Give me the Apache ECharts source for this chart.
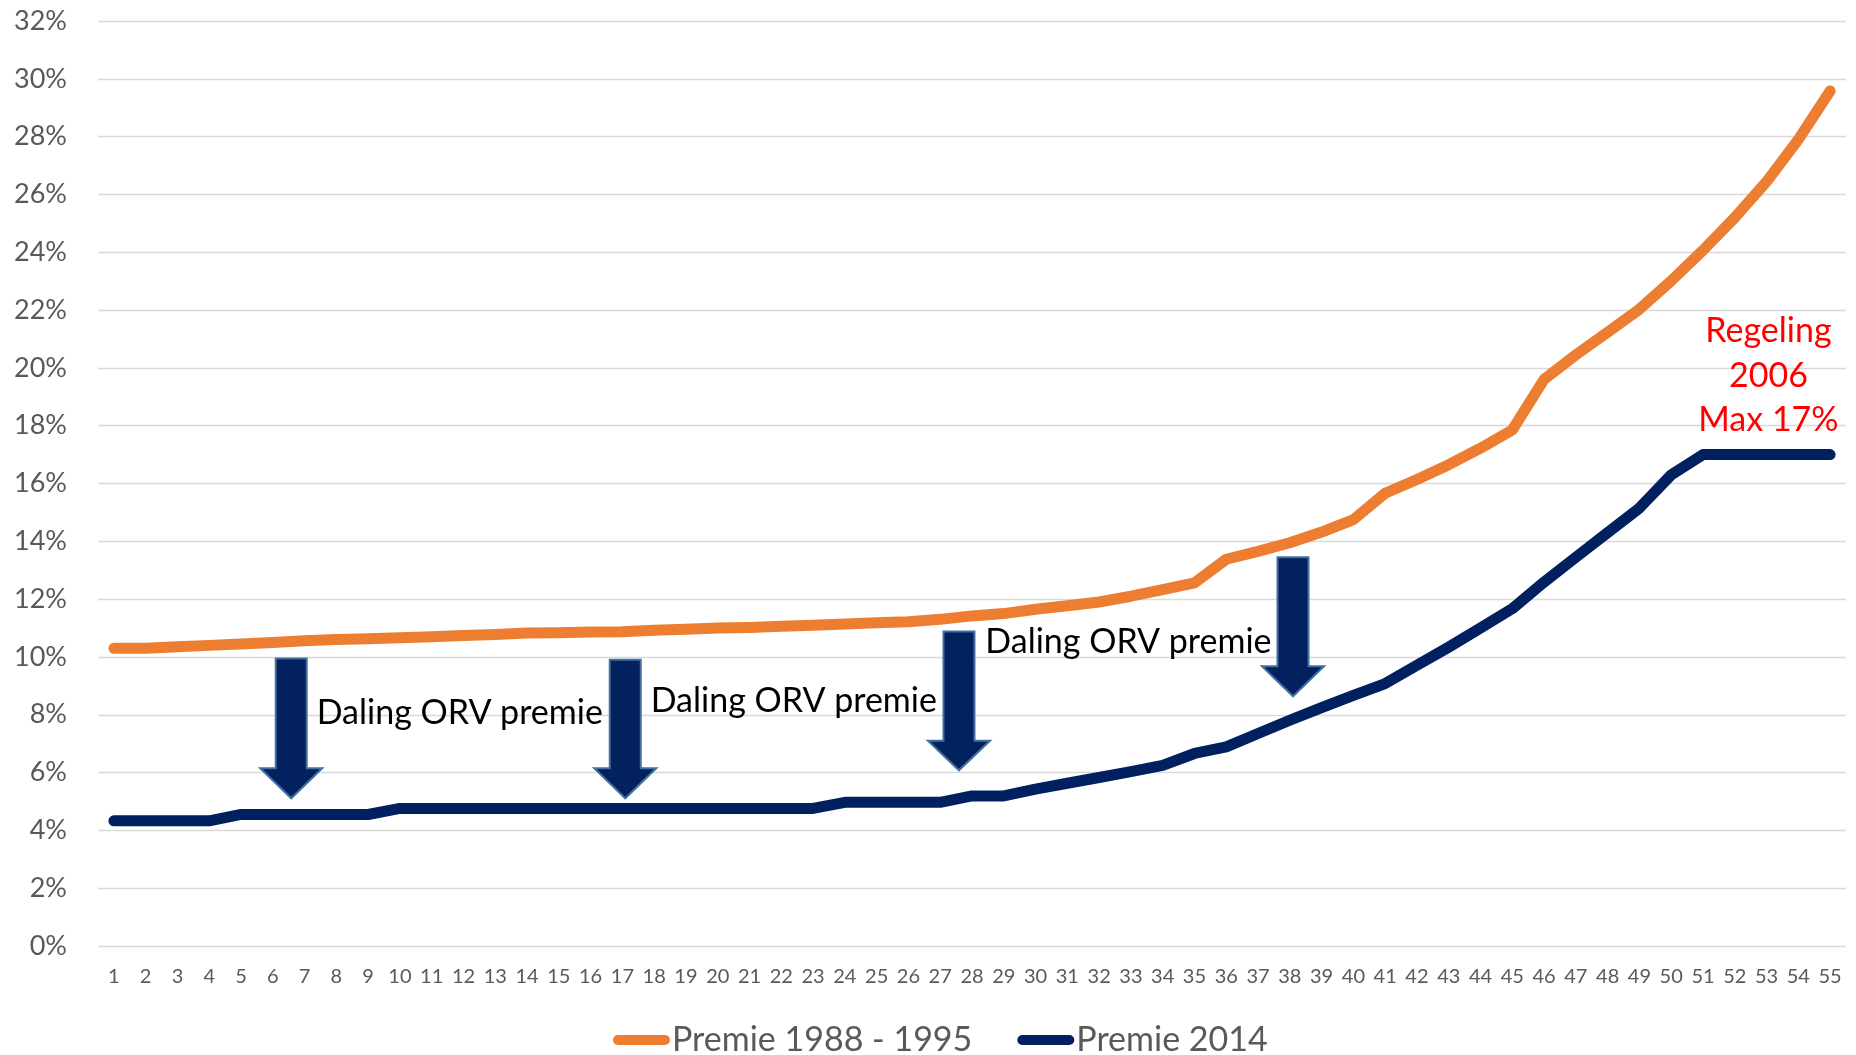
<!DOCTYPE html>
<html>
<head>
<meta charset="utf-8">
<script src="https://cdn.jsdelivr.net/npm/echarts@6/dist/echarts.min.js"></script>
<style>
  html, body { margin: 0; padding: 0; background: #ffffff; }
  #chart { width: 1856px; height: 1055px; }
</style>
</head>
<body>
<div id="chart"></div>
<script>
// ---- data ----
var categories = [];
for (var c = 1; c <= 55; c++) categories.push(String(c));

var premie1988 = [
  10.30, 10.30, 10.35, 10.40, 10.45, 10.50, 10.56, 10.60, 10.63, 10.66,
  10.70, 10.74, 10.78, 10.83, 10.84, 10.86, 10.87, 10.92, 10.96, 11.00,
  11.02, 11.06, 11.10, 11.14, 11.18, 11.22, 11.30, 11.42, 11.50, 11.65,
  11.77, 11.90, 12.10, 12.33, 12.56, 13.38, 13.65, 13.95, 14.32, 14.75,
  15.66, 16.14, 16.65, 17.22, 17.85, 19.60, 20.45, 21.23, 22.03, 23.01,
  24.07, 25.20, 26.44, 27.90, 29.58
];

var premie2014 = [
  4.33, 4.33, 4.33, 4.33, 4.55, 4.55, 4.55, 4.55, 4.55, 4.76,
  4.76, 4.76, 4.76, 4.76, 4.76, 4.76, 4.76, 4.76, 4.76, 4.76,
  4.76, 4.76, 4.76, 4.97, 4.97, 4.97, 4.97, 5.19, 5.19, 5.43,
  5.63, 5.83, 6.03, 6.25, 6.66, 6.89, 7.35, 7.81, 8.25, 8.67,
  9.08, 9.71, 10.34, 11.00, 11.67, 12.59, 13.45, 14.30, 15.15, 16.30,
  17.00, 17.00, 17.00, 17.00, 17.00
];

var seriesNames = ['Premie 1988 - 1995', 'Premie 2014'];

// y axis ticks (percent)
var yMin = 0, yMax = 32, yStep = 2;

// arrows: [x position (category number), top %, head start %, tip %]
var arrowX     = [6.58, 17.09, 27.59, 38.10];
var arrowTop   = [9.95, 9.90, 10.88, 13.45];
var arrowHead  = [6.15, 6.15, 7.10, 9.68];
var arrowTip   = [5.11, 5.11, 6.08, 8.64];

// text annotations: [x (category number, left edge), y %]
var noteTexts = ['Daling ORV premie', 'Daling ORV premie', 'Daling ORV premie'];
var noteX = [7.38, 17.89, 28.42];
var noteY = [8.07, 8.48, 10.52];

var redText = 'Regeling\n2006\nMax 17%';
var redX = [53.06];
var redY = [19.73];

// ---- chart ----
var chart = echarts.init(document.getElementById('chart'), null, { renderer: 'canvas' });
var FONT = 'Lato, "Open Sans", sans-serif';

var arrowData = arrowX.map(function (x, i) { return [x, arrowTop[i], arrowHead[i], arrowTip[i]]; });
var noteData = noteX.map(function (x, i) { return [x, noteY[i]]; });
var redData = redX.map(function (x, i) { return [x, redY[i]]; });

var option = {
  backgroundColor: '#ffffff',
  animation: false,
  grid: { left: 98, right: 10, top: 21, bottom: 109, containLabel: false },
  legend: {
    data: seriesNames,
    left: 608,
    top: 1018,
    itemWidth: 57,
    itemHeight: 11,
    itemGap: 45,
    icon: 'path://M5,0H52A5,5,0,0,1,52,10H5A5,5,0,0,1,5,0Z',
    textStyle: { color: '#595959', fontSize: 34, fontFamily: FONT, padding: [0, 0, 0, -3] }
  },
  xAxis: [
    {
      type: 'category',
      data: categories,
      boundaryGap: true,
      axisLine: { show: false },
      axisTick: { show: false },
      axisLabel: { color: '#595959', fontSize: 20, fontFamily: FONT, margin: 21, interval: 0 },
      splitLine: { show: false }
    },
    {
      type: 'value',
      min: 0.5,
      max: 55.5,
      show: false
    }
  ],
  yAxis: {
    type: 'value',
    min: yMin,
    max: yMax,
    interval: yStep,
    axisLine: { show: false },
    axisTick: { show: false },
    axisLabel: { color: '#595959', fontSize: 27, fontFamily: FONT, margin: 31, formatter: '{value}%' },
    splitLine: { lineStyle: { color: '#D9D9D9', width: 1.3 } }
  },
  series: [
    {
      name: seriesNames[0],
      type: 'line',
      data: premie1988,
      symbol: 'none',
      color: '#ED7D31',
      itemStyle: { color: '#ED7D31' },
      lineStyle: { color: '#ED7D31', width: 11, cap: 'round', join: 'round' },
      z: 3
    },
    {
      name: seriesNames[1],
      type: 'line',
      data: premie2014,
      symbol: 'none',
      color: '#002060',
      itemStyle: { color: '#002060' },
      lineStyle: { color: '#002060', width: 11, cap: 'round', join: 'round' },
      z: 3
    },
    {
      name: 'arrows',
      type: 'custom',
      xAxisIndex: 1,
      data: arrowData,
      encode: { x: 0, y: [1, 3] },
      z: 5,
      silent: true,
      renderItem: function (params, api) {
        var top = api.coord([api.value(0), api.value(1)]);
        var head = api.coord([api.value(0), api.value(2)]);
        var tip = api.coord([api.value(0), api.value(3)]);
        var cx = tip[0], sw = 15.5, hw = 31;
        return {
          type: 'polygon',
          shape: {
            points: [
              [cx - sw, top[1]], [cx + sw, top[1]], [cx + sw, head[1]], [cx + hw, head[1]],
              [cx, tip[1]], [cx - hw, head[1]], [cx - sw, head[1]]
            ]
          },
          style: { fill: '#03215E', stroke: '#41719C', lineWidth: 2 }
        };
      }
    },
    {
      name: 'notes',
      type: 'custom',
      xAxisIndex: 1,
      data: noteData,
      encode: { x: 0, y: 1 },
      z: 6,
      silent: true,
      renderItem: function (params, api) {
        var p = api.coord([api.value(0), api.value(1)]);
        return {
          type: 'text',
          x: p[0], y: p[1],
          style: {
            text: noteTexts[params.dataIndex],
            fill: '#000000',
            fontSize: 34,
            fontFamily: FONT,
            align: 'left',
            verticalAlign: 'middle'
          }
        };
      }
    },
    {
      name: 'regeling',
      type: 'custom',
      xAxisIndex: 1,
      data: redData,
      encode: { x: 0, y: 1 },
      z: 6,
      silent: true,
      renderItem: function (params, api) {
        var p = api.coord([api.value(0), api.value(1)]);
        return {
          type: 'text',
          x: p[0], y: p[1],
          style: {
            text: redText,
            fill: '#FF0000',
            fontSize: 34,
            lineHeight: 44.5,
            fontFamily: FONT,
            align: 'center',
            verticalAlign: 'middle'
          }
        };
      }
    }
  ]
};
chart.setOption(option);
</script>
</body>
</html>
